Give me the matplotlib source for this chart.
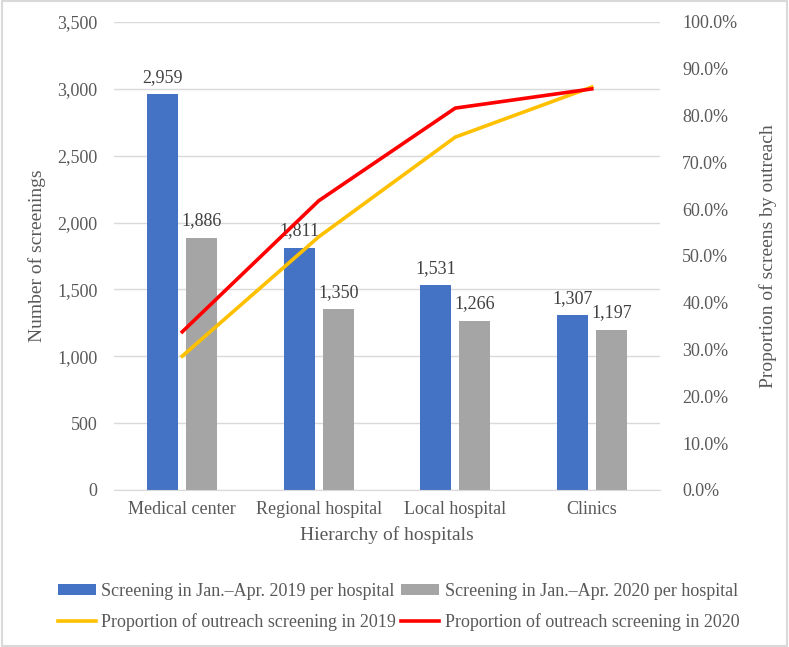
import numpy as np
import matplotlib.pyplot as plt
from matplotlib.ticker import FuncFormatter, MultipleLocator

plt.rcParams['font.family'] = ['Liberation Serif', 'DejaVu Serif']

hospitals = ['Medical center', 'Regional hospital', 'Local hospital', 'Clinics']
screen_2019 = [2959, 1811, 1531, 1307]
screen_2020 = [1886, 1350, 1266, 1197]
prop_2019 = [0.286, 0.541, 0.754, 0.861]
prop_2020 = [0.338, 0.618, 0.816, 0.857]

text_col = '#595959'
fs = 13

fig = plt.figure(figsize=(7.89, 6.47), dpi=100)
fig.patches.append(plt.Rectangle((0.002, 0.002), 0.996, 0.996, transform=fig.transFigure,
                                 fill=False, edgecolor='#d9d9d9', linewidth=1.5))
ax = fig.add_axes([0.1445, 0.2427, 0.692, 0.7233])
ax2 = ax.twinx()

x = np.arange(len(hospitals))
w = 0.225
b1 = ax.bar(x - 0.143, screen_2019, w, color='#4472C4', label='Screening in Jan.–Apr. 2019 per hospital')
b2 = ax.bar(x + 0.143, screen_2020, w, color='#A5A5A5', label='Screening in Jan.–Apr. 2020 per hospital')
ax.bar_label(b1, labels=[f'{v:,}' for v in screen_2019], padding=6, fontsize=fs, color='#404040')
ax.bar_label(b2, labels=[f'{v:,}' for v in screen_2020], padding=6, fontsize=fs, color='#404040')

l1, = ax2.plot(x, prop_2019, color='#FFC000', lw=2.6, label='Proportion of outreach screening in 2019')
l2, = ax2.plot(x, prop_2020, color='#FF0000', lw=2.6, label='Proportion of outreach screening in 2020')

ax.set_xlim(-0.5, 3.5)
ax.set_ylim(0, 3500)
ax.yaxis.set_major_locator(MultipleLocator(500))
ax.yaxis.set_major_formatter(FuncFormatter(lambda v, p: f'{int(v):,}'))
ax2.set_ylim(0, 1.0)
ax2.yaxis.set_major_locator(MultipleLocator(0.1))
ax2.yaxis.set_major_formatter(FuncFormatter(lambda v, p: f'{v*100:.1f}%'))

ax.set_axisbelow(True)
ax.grid(axis='y', color='#d9d9d9', lw=1)
for a in (ax, ax2):
    for s in a.spines.values():
        s.set_visible(False)
    a.tick_params(length=0, labelsize=fs, colors=text_col)
ax.spines['bottom'].set_visible(True)
ax.spines['bottom'].set_color('#d9d9d9')
ax.set_xticks(x)
ax.set_xticklabels(hospitals)
ax.tick_params(axis='x', pad=8)
ax.tick_params(axis='y', pad=12)
ax2.tick_params(axis='y', pad=16)

ax.set_xlabel('Hierarchy of hospitals', fontsize=fs + 1, color=text_col, labelpad=6)
ax.set_ylabel('Number of screenings', fontsize=fs + 1, color=text_col, labelpad=8)
ax2.set_ylabel('Proportion of screens by outreach', fontsize=fs + 1, color=text_col, labelpad=16)

fig.legend(handles=[b1, l1, b2, l2], ncol=2, loc='center', bbox_to_anchor=(0.505, 0.062),
           frameon=False, fontsize=fs, labelcolor=text_col, handlelength=2.1,
           handleheight=0.55, handletextpad=0.3, columnspacing=0.3, labelspacing=0.7)

fig.savefig('out.png', dpi=100)
